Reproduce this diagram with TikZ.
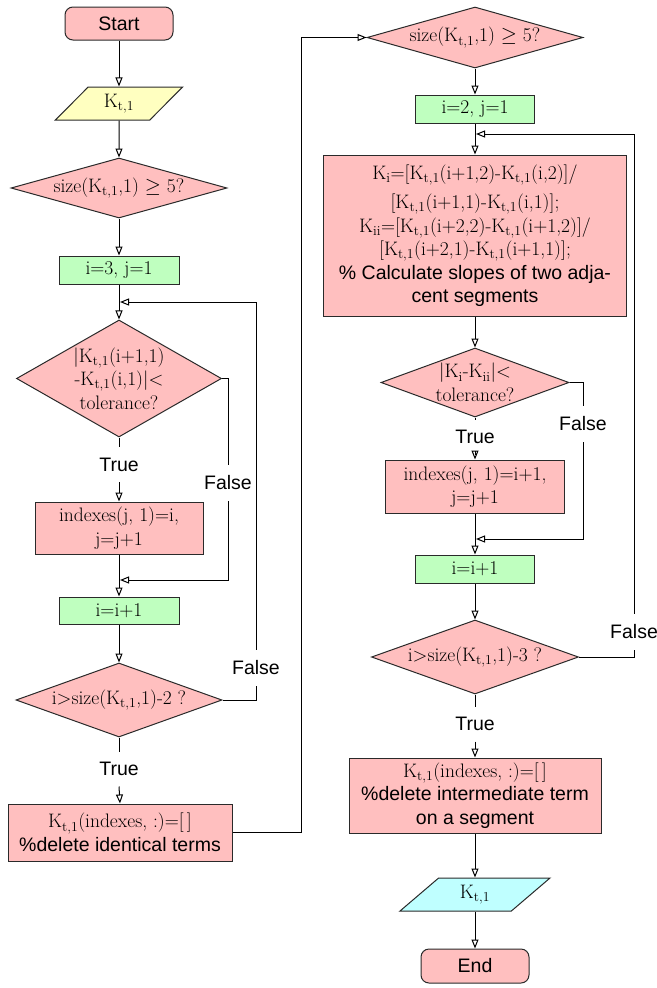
\documentclass[tikz,border=0pt]{standalone}
\usepackage{fontspec}
\setsansfont{Liberation Sans}
\usetikzlibrary{shapes.geometric,arrows.meta}

\definecolor{pinkfill}{HTML}{FFBFBF}
\definecolor{greenfill}{HTML}{BFFFBF}
\definecolor{yellowfill}{HTML}{FFFFC0}
\definecolor{cyanfill}{HTML}{BFFFFF}
\definecolor{edgegray}{HTML}{2A2A2A}

\newcommand{\Ktone}{K\textsubscript{t,1}}
\newcommand{\bodysize}{\fontsize{19.5}{23.5}\selectfont}
\newcommand{\sanssize}{\fontsize{19.5}{23.5}\selectfont\sffamily}

\tikzset{
  base/.style={draw=edgegray, line width=1pt, font=\bodysize, align=center, inner sep=0pt},
  proc/.style={base, rectangle, fill=pinkfill},
  init/.style={base, rectangle, fill=greenfill},
  term/.style={base, rectangle, rounded corners=8pt, fill=pinkfill, font=\sanssize},
  io/.style={base, trapezium, trapezium left angle=50, trapezium right angle=130,
             trapezium stretches=true},
  dec/.style={base, diamond, fill=pinkfill},
  dtext/.style={font=\bodysize, align=center, inner sep=0pt},
  lbl/.style={font=\sanssize, fill=white, inner xsep=2pt, inner ysep=10.5pt},
  link/.style={line width=1pt, draw=black},
  flow/.style={link, -{Triangle[open, length=9pt, width=7pt]}},
}

\begin{document}
\begin{tikzpicture}[x=1pt, y=-1pt]
\useasboundingbox (0,0) rectangle (656,988);

% ---------- left column ----------
\node[term, minimum width=108, minimum height=33] (start) at (119,23.5) {Start};
\node[io, fill=yellowfill, minimum width=128, minimum height=33] (kin) at (119,103.5) {\Ktone};
\node[dec, minimum width=216, minimum height=60,
      label={[dtext]center:size(\Ktone,1) $\geq$ 5?}] (d1) at (119,188) {};
\node[init, minimum width=120, minimum height=28] (b1) at (119,270) {i=3, j=1};
\node[dec, minimum width=205, minimum height=117,
      label={[dtext]center:|\Ktone(i+1,1)\\-\Ktone(i,1)|<\\tolerance?}] (d2) at (119,378.5) {};
\node[proc, minimum width=168, minimum height=52] (b2) at (119,528) {indexes(j, 1)=i,\\j=j+1};
\node[init, minimum width=120, minimum height=27] (b3) at (119,610.5) {i=i+1};
\node[dec, minimum width=206, minimum height=74,
      label={[dtext]center:i>size(\Ktone,1)-2 ?}] (d3) at (119,700) {};
\node[proc, minimum width=224, minimum height=57] (b4) at (120,832.5)
  {\Ktone(indexes, :)={[\,]}\\\sanssize\%delete identical terms};

% ---------- right column ----------
\node[dec, minimum width=216, minimum height=61,
      label={[dtext]center:size(\Ktone,1) $\geq$ 5?}] (d4) at (475,37.5) {};
\node[init, minimum width=119, minimum height=28] (b5) at (475,109) {i=2, j=1};
\node[proc, minimum width=303, minimum height=161] (b6) at (475,235.5)
  {K\textsubscript{i}={[}\Ktone(i+1,2)-\Ktone(i,2){]}/\\[6pt]
   {[}\Ktone(i+1,1)-\Ktone(i,1){]};\\
   K\textsubscript{ii}={[}\Ktone(i+2,2)-\Ktone(i+1,2){]}/\\
   {[}\Ktone(i+2,1)-\Ktone(i+1,1){]};\\
   \sanssize\% Calculate slopes of two adja-\\\sanssize cent segments};
\node[dec, minimum width=188, minimum height=69,
      label={[dtext]center:|K\textsubscript{i}-K\textsubscript{ii}|<\\tolerance?}] (d5) at (475,382.5) {};
\node[proc, minimum width=179, minimum height=53] (b7) at (475,486.5) {indexes(j, 1)=i+1,\\j=j+1};
\node[init, minimum width=119, minimum height=28] (b8) at (475,569) {i=i+1};
\node[dec, minimum width=207, minimum height=74,
      label={[dtext]center:i>size(\Ktone,1)-3 ?}] (d6) at (475,657) {};
\node[proc, minimum width=252, minimum height=75] (b9) at (475,795.5)
  {\Ktone(indexes, :)={[\,]}\\\sanssize\%delete intermediate term\\\sanssize on a segment};
\node[io, fill=cyanfill, minimum width=151, minimum height=33] (kout) at (475,894.5) {\Ktone};
\node[term, minimum width=108, minimum height=34] (end) at (475,966) {End};

% ---------- routing points ----------
\coordinate (m1) at (120,302);
\coordinate (m2) at (120,580);
\coordinate (m3) at (476,134);
\coordinate (m4) at (476,539);
\coordinate (r1) at (256,302);
\coordinate (r2) at (228,580);
\coordinate (r3) at (301,37.5);
\coordinate (r4) at (583,539);
\coordinate (r5) at (634,134);

% ---------- True labels ----------
\node[lbl] (t1) at (119,464.5) {True};
\node[lbl] (t2) at (119,769) {True};
\node[lbl] (t3) at (475,437) {True};
\node[lbl] (t4) at (475,724) {True};

% ---------- left column connectors ----------
\draw[flow] (start) -- (kin);
\draw[flow] (kin) -- (d1);
\draw[flow] (d1) -- (b1);
\draw[flow] (b1) -- (d2);
\draw[link] (d2.south) -- (t1.north);
\draw[flow] (t1.south) -- (b2.north);
\draw[flow] (b2) -- (b3);
\draw[flow] (d2.east) -| (r2) -- (m2);
\draw[flow] (b3) -- (d3);
\draw[link] (d3.south) -- (t2.north);
\draw[flow] (t2.south) -- (b4.north);
\draw[flow] (d3.east) -| (r1) -- (m1);
\draw[flow] (b4.east) -| (r3) -- (d4.west);

% ---------- right column connectors ----------
\draw[flow] (d4) -- (b5);
\draw[flow] (b5) -- (b6);
\draw[flow] (b6) -- (d5);
\draw[link] (d5.south) -- (t3.north);
\draw[flow] (t3.south) -- (b7.north);
\draw[flow] (b7) -- (b8);
\draw[flow] (d5.east) -| (r4) -- (m4);
\draw[flow] (b8) -- (d6);
\draw[link] (d6.south) -- (t4.north);
\draw[flow] (t4.south) -- (b9.north);
\draw[flow] (d6.east) -| (r5) -- (m3);
\draw[flow] (b9) -- (kout);
\draw[flow] (kout) -- (end);

% ---------- False labels on the loop lines ----------
\node[lbl] (f1) at (228,483) {False};
\node[lbl] (f2) at (256,668) {False};
\node[lbl] (f3) at (583,424) {False};
\node[lbl] (f4) at (634,632) {False};
\end{tikzpicture}
\end{document}
